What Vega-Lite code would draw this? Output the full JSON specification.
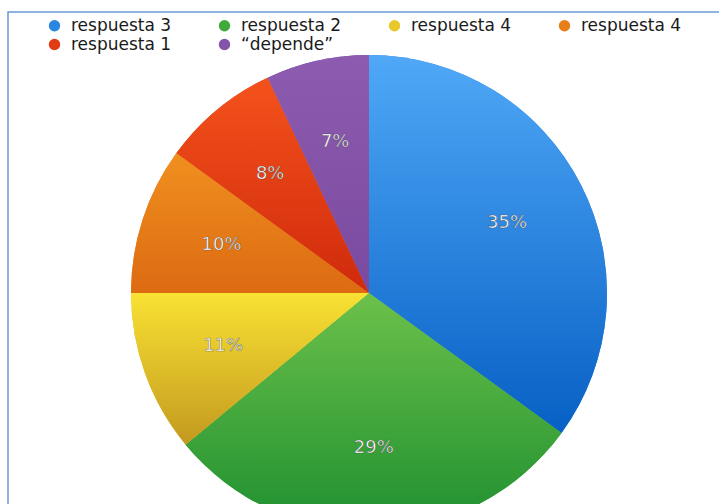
{
  "$schema": "https://vega.github.io/schema/vega-lite/v6.json",
  "width": 722,
  "height": 562,
  "padding": {"left": 8, "top": 12, "right": 0, "bottom": 0},
  "autosize": {"type": "pad"},
  "background": "white",
  "view": {"stroke": "#6b9bd6", "strokeWidth": 1.5},
  "config": {
    "view": {"stroke": "#6b9bd6", "strokeWidth": 1.5},
    "font": "DejaVu Sans"
  },
  "data": {
    "values": [
      {"cat": "r3", "name": "respuesta 3", "idx": 1, "value": 35, "label": "35%"},
      {"cat": "r2", "name": "respuesta 2", "idx": 2, "value": 29, "label": "29%"},
      {"cat": "r4a", "name": "respuesta 4", "idx": 3, "value": 11, "label": "11%"},
      {"cat": "r4b", "name": "respuesta 4", "idx": 4, "value": 10, "label": "10%"},
      {"cat": "r1", "name": "respuesta 1", "idx": 5, "value": 8, "label": "8%"},
      {"cat": "dep", "name": "“depende”", "idx": 6, "value": 7, "label": "7%"}
    ]
  },
  "transform": [
    {"stack": "value", "groupby": [], "sort": [{"field": "idx", "order": "ascending"}], "as": ["v0", "v1"]}
  ],
  "layer": [
    {
      "mark": {"type": "arc", "outerRadius": 238},
      "encoding": {
        "theta": {"field": "v0", "type": "quantitative", "scale": {"domain": [0, 100]}},
        "theta2": {"field": "v1"},
        "color": {
          "field": "cat",
          "type": "nominal",
          "scale": {
            "domain": ["r3", "r2", "r4a", "r4b", "r1", "dep"],
            "range": ["#2a86e0", "#3faa3a", "#e8c82a", "#e87e18", "#e23c14", "#8354a8"]
          },
          "legend": {
            "title": null,
            "orient": "none",
            "legendX": 38,
            "legendY": 5,
            "direction": "horizontal",
            "columns": 4,
            "columnPadding": 44,
            "rowPadding": 1,
            "padding": 0,
            "symbolType": "circle",
            "symbolSize": 130,
            "symbolStrokeWidth": 0,
            "labelFont": "DejaVu Sans",
            "labelFontSize": 17,
            "labelColor": "#1a1a1a",
            "labelOffset": 8,
            "labelExpr": "{'r3':'respuesta 3','r2':'respuesta 2','r4a':'respuesta 4','r4b':'respuesta 4','r1':'respuesta 1','dep':'“depende”'}[datum.value]"
          }
        }
      }
    },
    {
      "transform": [{"filter": "datum.cat == 'r3'"}],
      "mark": {"type": "arc", "outerRadius": 238, "color": {"gradient": "linear", "x1": 0, "y1": 0, "x2": 0, "y2": 1, "stops": [{"offset": 0, "color": "#50a8f7"}, {"offset": 1, "color": "#0760c4"}]}},
      "encoding": {"theta": {"field": "v0", "type": "quantitative"}, "theta2": {"field": "v1"}}
    },
    {
      "transform": [{"filter": "datum.cat == 'r2'"}],
      "mark": {"type": "arc", "outerRadius": 238, "color": {"gradient": "linear", "x1": 0, "y1": 0, "x2": 0, "y2": 1, "stops": [{"offset": 0, "color": "#6cc14a"}, {"offset": 1, "color": "#1e8f30"}]}},
      "encoding": {"theta": {"field": "v0", "type": "quantitative"}, "theta2": {"field": "v1"}}
    },
    {
      "transform": [{"filter": "datum.cat == 'r4a'"}],
      "mark": {"type": "arc", "outerRadius": 238, "color": {"gradient": "linear", "x1": 0, "y1": 0, "x2": 0, "y2": 1, "stops": [{"offset": 0, "color": "#f9e233"}, {"offset": 1, "color": "#c3991f"}]}},
      "encoding": {"theta": {"field": "v0", "type": "quantitative"}, "theta2": {"field": "v1"}}
    },
    {
      "transform": [{"filter": "datum.cat == 'r4b'"}],
      "mark": {"type": "arc", "outerRadius": 238, "color": {"gradient": "linear", "x1": 0, "y1": 0, "x2": 0, "y2": 1, "stops": [{"offset": 0, "color": "#f0901f"}, {"offset": 1, "color": "#dc6a12"}]}},
      "encoding": {"theta": {"field": "v0", "type": "quantitative"}, "theta2": {"field": "v1"}}
    },
    {
      "transform": [{"filter": "datum.cat == 'r1'"}],
      "mark": {"type": "arc", "outerRadius": 238, "color": {"gradient": "linear", "x1": 0, "y1": 0, "x2": 0, "y2": 1, "stops": [{"offset": 0, "color": "#f4521c"}, {"offset": 1, "color": "#cf2a0c"}]}},
      "encoding": {"theta": {"field": "v0", "type": "quantitative"}, "theta2": {"field": "v1"}}
    },
    {
      "transform": [{"filter": "datum.cat == 'dep'"}],
      "mark": {"type": "arc", "outerRadius": 238, "color": {"gradient": "linear", "x1": 0, "y1": 0, "x2": 0, "y2": 1, "stops": [{"offset": 0, "color": "#8d5cb0"}, {"offset": 1, "color": "#7a4aa0"}]}},
      "encoding": {"theta": {"field": "v0", "type": "quantitative"}, "theta2": {"field": "v1"}}
    },
    {
      "mark": {"type": "text", "radius": 155, "fontSize": 18, "font": "DejaVu Sans", "fill": "white", "stroke": "#222", "strokeWidth": 0.6, "strokeOpacity": 0.55},
      "encoding": {
        "theta": {"field": "value", "type": "quantitative", "stack": true},
        "order": {"field": "idx", "type": "quantitative"},
        "text": {"field": "label"}
      }
    }
  ]
}
